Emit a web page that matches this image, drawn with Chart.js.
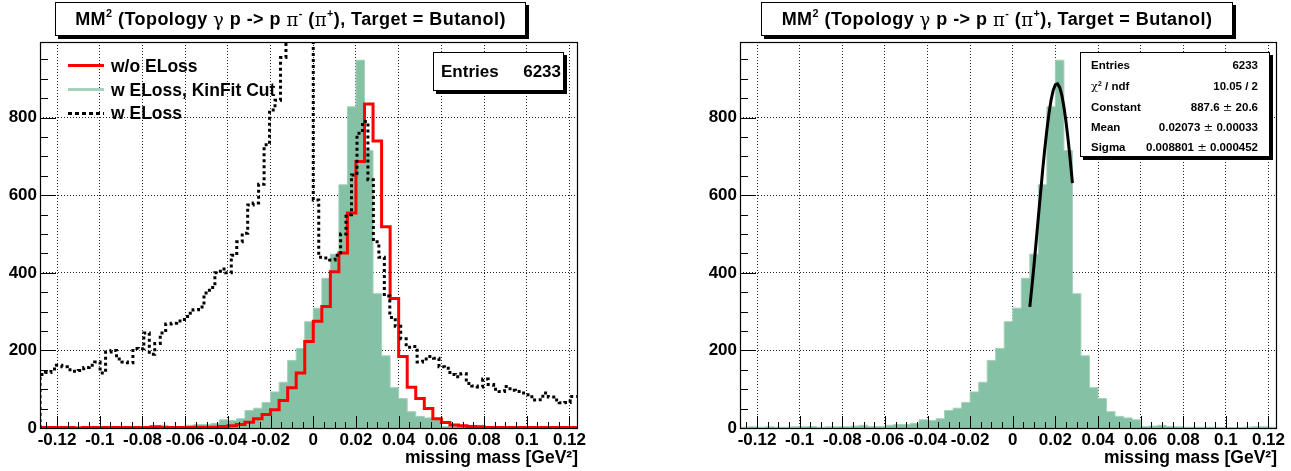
<!DOCTYPE html>
<html>
<head>
<meta charset="utf-8">
<script src="https://cdn.jsdelivr.net/npm/chart.js@4.4.0/dist/chart.umd.min.js"></script>
<style>
body { margin: 0; width: 1291px; height: 471px; position: relative; overflow: hidden; background: #fff;
  font-family: "Liberation Sans", Arial, sans-serif; font-weight: bold; color: #000; }
canvas { position: absolute; top: 0; }
.box { position: absolute; background: #fff; border: 1px solid #000; box-shadow: 3px 3px 0 #000; box-sizing: border-box; }
.title { top: 2px; height: 34px; font-size: 18px; letter-spacing: 0.45px; display: flex; align-items: center; justify-content: center; white-space: nowrap; }
.sym { font-family: "DejaVu Serif", "Liberation Serif", serif; font-weight: normal; }
sup { font-size: 0.6em; vertical-align: baseline; position: relative; top: -0.6em; line-height: 0; }
.leg { position: absolute; font-size: 17.5px; white-space: nowrap; line-height: 20px; }
.legline { position: absolute; left: 68px; width: 36px; height: 3px; }
.row { position: absolute; left: 0; right: 0; height: 16px; line-height: 16px; }
.row .l { position: absolute; left: 10px; }
.row .r { position: absolute; right: 11px; }
</style>
</head>
<body>
<canvas id="left" width="645" height="471" style="left:0"></canvas>
<canvas id="right" width="646" height="471" style="left:645px"></canvas>

<div class="box title" style="left:55px; width:471px">MM<sup>2</sup>&nbsp;(Topology&nbsp;<span class="sym">γ</span>&nbsp;p -&gt; p&nbsp;<span class="sym">π</span><sup>-</sup>&nbsp;(<span class="sym">π</span><sup>+</sup>), Target = Butanol)</div>
<div class="box title" style="left:761px; width:472px">MM<sup>2</sup>&nbsp;(Topology&nbsp;<span class="sym">γ</span>&nbsp;p -&gt; p&nbsp;<span class="sym">π</span><sup>-</sup>&nbsp;(<span class="sym">π</span><sup>+</sup>), Target = Butanol)</div>

<!-- legend, left pad -->
<div class="legline" style="top:64px; background:#ff0000"></div>
<div class="leg" style="left:111px; top:56px">w/o ELoss</div>
<div class="legline" style="top:88px; background:#a3d3bc"></div>
<div class="leg" style="left:111px; top:80px">w ELoss, KinFit Cut</div>
<div class="legline" style="top:112px; background:repeating-linear-gradient(90deg,#000 0 4px,transparent 4px 7px)"></div>
<div class="leg" style="left:111px; top:103px">w ELoss</div>

<!-- stats boxes -->
<div class="box" style="left:433px; top:52px; width:131px; height:39px; font-size:17px">
  <span style="position:absolute; left:7px; top:9px">Entries</span>
  <span style="position:absolute; right:2px; top:9px">6233</span>
</div>
<div class="box" style="left:1080px; top:52px; width:190px; height:105px; font-size:11.5px">
  <div class="row" style="top:4px"><span class="l">Entries</span><span class="r">6233</span></div>
  <div class="row" style="top:25px"><span class="l"><span class="sym">χ</span><sup>2</sup> / ndf</span><span class="r">10.05 / 2</span></div>
  <div class="row" style="top:46px"><span class="l">Constant</span><span class="r">887.6 <span class="sym">±</span> 20.6</span></div>
  <div class="row" style="top:66px"><span class="l">Mean</span><span class="r">0.02073 <span class="sym">±</span> 0.00033</span></div>
  <div class="row" style="top:86px"><span class="l">Sigma</span><span class="r">0.008801 <span class="sym">±</span> 0.000452</span></div>
</div>

<script>
// axis
var xMin = -0.128, xMax = 0.124;
var yMax = 995;
var xTicks = [-0.12, -0.1, -0.08, -0.06, -0.04, -0.02, 0, 0.02, 0.04, 0.06, 0.08, 0.1, 0.12];
var xTickLabels = ['-0.12', '-0.1', '-0.08', '-0.06', '-0.04', '-0.02', '0', '0.02', '0.04', '0.06', '0.08', '0.1', '0.12'];
var yTicks = [0, 200, 400, 600, 800];
var yTickLabels = ['0', '200', '400', '600', '800'];
var xMinorStep = 0.005, yMinorStep = 50;

// histograms (bin counts), first bin starts at histLow
var histLow = -0.128;
var binWidth = 0.004;      // green and red: 64 bins
var dotBinWidth = 0.00256; // black dotted: 100 bins

var kinfitCounts = [2,3,2,3,2,2,3,3,4,2,3,3,3,5,7,4,4,7,9,9,12,21,19,24,45,51,66,93,118,174,205,274,309,
  386,448,627,828,948,715,346,186,104,76,42,30,26,21,4,5,7,4,3,2,2,2,2,1,1,1,2,3,3,2,1];
var noElossCounts = [1,1,1,1,0,1,1,1,1,1,1,1,1,3,1,1,1,1,2,2,2,4,6,9,15,24,35,47,71,104,142,223,275,
  313,403,451,554,687,835,740,519,334,184,105,76,50,24,14,8,6,4,3,1,1,1,1,1,1,1,1,1,1,1,1];
var elossCounts = [138,143,152,162,158,150,146,148,156,162,
  170,142,196,200,178,170,168,205,204,245,
  190,218,245,268,270,276,280,296,305,312,
  348,362,400,410,400,445,480,502,575,580,
  628,730,820,845,955,1100,1250,1350,1300,1200,
  588,440,438,433,445,500,550,652,760,790,
  640,480,440,340,285,262,230,208,210,170,
  178,184,180,158,154,138,132,140,115,108,
  106,126,112,100,94,107,97,94,90,86,
  72,73,90,80,72,65,66,81,81,80];

// gaus fit curve
var fitX = [0.008,0.009,0.010,0.011,0.012,0.013,0.014,0.015,0.016,0.017,0.018,0.019,0.020,0.021,0.022,0.023,0.024,0.025,0.026,0.027,0.028];
var fitY = [312,365,422,482,543,603,663,718,768,811,846,871,885,887,878,859,828,789,742,689,631];

var fontFamily = "'Liberation Sans', Arial, sans-serif";

function histPoints(counts, lo, w) {
  var pts = [{x: lo, y: 0}];
  for (var i = 0; i < counts.length; i++) {
    pts.push({x: lo + i * w, y: counts[i]});
  }
  pts.push({x: lo + counts.length * w, y: counts[counts.length - 1]});
  pts.push({x: lo + counts.length * w, y: 0});
  return pts;
}

function fitPoints() {
  var pts = [];
  for (var i = 0; i < fitX.length; i++) pts.push({x: fitX[i], y: fitY[i]});
  return pts;
}

var insideTicks = {
  id: 'insideTicks',
  afterDatasetsDraw: function(chart) {
    var ctx = chart.ctx, a = chart.chartArea, sx = chart.scales.x, sy = chart.scales.y;
    ctx.save();
    ctx.strokeStyle = '#000';
    ctx.lineWidth = 1;
    ctx.beginPath();
    for (var i = Math.ceil(xMin / xMinorStep - 1e-9); i * xMinorStep <= xMax + 1e-9; i++) {
      var px = Math.round(sx.getPixelForValue(i * xMinorStep)) + 0.5;
      var len = (i % 4 === 0) ? 12 : 6;
      ctx.moveTo(px, a.bottom);
      ctx.lineTo(px, a.bottom - len);
    }
    for (var j = 0; j * yMinorStep <= yMax; j++) {
      var py = Math.round(sy.getPixelForValue(j * yMinorStep)) + 0.5;
      var ylen = (j % 4 === 0) ? 16 : 8;
      ctx.moveTo(a.left, py);
      ctx.lineTo(a.left + ylen, py);
    }
    ctx.stroke();
    ctx.lineWidth = 1.2;
    ctx.strokeRect(Math.round(a.left) + 0.5, Math.round(a.top) + 0.5,
      Math.round(a.right - a.left) - 1, Math.round(a.bottom - a.top));
    ctx.restore();
  }
};

function makeChart(id, datasets, padLeft, padRight) {
  return new Chart(document.getElementById(id), {
    type: 'line',
    data: {datasets: datasets},
    options: {
      responsive: false,
      animation: false,
      events: [],
      layout: {padding: {left: padLeft, right: padRight, top: 42, bottom: 0}},
      plugins: {legend: {display: false}, tooltip: {enabled: false}},
      elements: {point: {radius: 0}, line: {tension: 0}},
      scales: {
        x: {
          type: 'linear', min: xMin, max: xMax,
          afterBuildTicks: function(s) { s.ticks = xTicks.map(function(v) { return {value: v}; }); },
          afterFit: function(s) { s.height = 43; },
          ticks: {
            callback: function(v, i) { return xTickLabels[i]; },
            font: {family: fontFamily, size: 17, weight: 'bold'}, color: '#000',
            padding: 2, maxRotation: 0, autoSkip: false
          },
          grid: {color: '#222', lineWidth: 1, drawTicks: false},
          border: {display: false, dash: [1, 2]},
          title: {
            display: true, text: 'missing mass [GeV²]', align: 'end',
            font: {family: fontFamily, size: 17.5, weight: 'bold'}, color: '#000',
            padding: {top: 0, bottom: 2}
          }
        },
        y: {
          type: 'linear', min: 0, max: yMax,
          afterBuildTicks: function(s) { s.ticks = yTicks.map(function(v) { return {value: v}; }); },
          afterFit: function(s) { s.width = 40; },
          ticks: {
            callback: function(v, i) { return yTickLabels[i]; },
            font: {family: fontFamily, size: 17, weight: 'bold'}, color: '#000', padding: 3
          },
          grid: {color: '#222', lineWidth: 1, drawTicks: false},
          border: {display: false, dash: [1, 2]}
        }
      }
    },
    plugins: [insideTicks]
  });
}

function kinfitSet() {
  return {
    label: 'w ELoss, KinFit Cut', data: histPoints(kinfitCounts, histLow, binWidth),
    stepped: 'before', fill: 'origin', backgroundColor: '#85c1a4',
    borderColor: '#a3d3bc', borderWidth: 1, order: 3
  };
}

makeChart('left', [
  {label: 'w ELoss', data: histPoints(elossCounts, histLow, dotBinWidth), stepped: 'before', fill: false,
   borderColor: '#000', borderWidth: 3, borderDash: [3, 3], order: 1},
  {label: 'w/o ELoss', data: histPoints(noElossCounts, histLow, binWidth), stepped: 'before', fill: false,
   borderColor: '#ff0000', borderWidth: 3, order: 2},
  kinfitSet()
], 0, 67);

makeChart('right', [
  {label: 'gaus', data: fitPoints(), fill: false, borderColor: '#000', borderWidth: 3, order: 1},
  kinfitSet()
], 55, 14);
</script>
</body>
</html>
